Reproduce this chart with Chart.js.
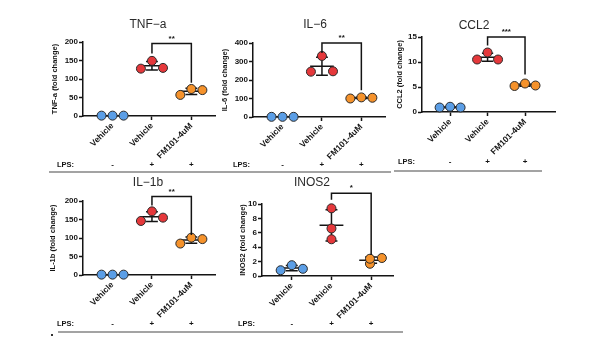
<!DOCTYPE html>
<html>
<head>
<meta charset="utf-8">
<script src="https://cdn.jsdelivr.net/npm/chart.js@4.4.0/dist/chart.umd.min.js"></script>
<style>
  html, body { margin: 0; padding: 0; background: #fff; }
  #wrap { position: relative; width: 590px; height: 350px; overflow: hidden; background: #fff; }
  #wrap canvas { position: absolute; left: 0; top: 0; }
  .rule { position: absolute; height: 2px; background: #a3a3a3; }
  .dot { position: absolute; width: 2px; height: 2px; background: #333; }
</style>
</head>
<body>
<div id="wrap">
  <canvas id="c0" width="590" height="350"></canvas>
  <canvas id="c1" width="590" height="350"></canvas>
  <canvas id="c2" width="590" height="350"></canvas>
  <canvas id="c3" width="590" height="350"></canvas>
  <canvas id="c4" width="590" height="350"></canvas>
  <div class="rule" style="left:49px;top:171px;width:342px"></div>
  <div class="rule" style="left:394px;top:170px;width:148px"></div>
  <div class="rule" style="left:58px;top:331px;width:345px"></div>
  <div class="dot" style="left:51px;top:334px"></div>
</div>
<script>
// groups on the x axis, LPS row under them
const groups = ['Vehicle', 'Vehicle', 'FM101-4uM'];
const lpsSigns = ['-', '+', '+'];
const titles = ['TNF\u2212a', 'IL\u22126', 'CCL2', 'IL\u22121b', 'INOS2'];
const yTitles = ['TNF-a (fold change)', 'IL-6 (fold change)', 'CCL2 (fold change)', 'IL-1b (fold change)', 'INOS2 (fold change)'];

// fold change values, 3 replicates per group
const tnfVeh = [1, 1, 1];
const tnfLps = [128, 149, 130];
const tnfFm = [57, 73, 70];
const il6Veh = [1, 1, 1];
const il6Lps = [245, 330, 247];
const il6Fm = [100, 106, 104];
const ccl2Veh = [0.9, 1.05, 0.9];
const ccl2Lps = [10.5, 11.9, 10.5];
const ccl2Fm = [5.2, 5.7, 5.3];
const il1bVeh = [1, 1, 1];
const il1bLps = [146, 172, 155];
const il1bFm = [85, 101, 97];
const inosVeh = [0.8, 1.5, 1.0];
const inosLps = [9.4, 6.6, 5.1];
const inosFm = [1.7, 2.4, 2.5];

// y axis ticks
const yMaxes = [200, 400, 15, 200, 10];
const ySteps = [50, 100, 5, 50, 2];

// significance brackets (Vehicle+LPS vs FM101)
const bracketTop = [196, 400, 15, 212, 11.5];
const bracketLeft = [169, 346, 13.3, 188, 10.6];
const bracketRight = [90, 144, 7.5, 108, 2.9];
const stars = ['**', '**', '***', '**', '*'];

const panelVals = [
  [tnfVeh, tnfLps, tnfFm],
  [il6Veh, il6Lps, il6Fm],
  [ccl2Veh, ccl2Lps, ccl2Fm],
  [il1bVeh, il1bLps, il1bFm],
  [inosVeh, inosLps, inosFm]
];

// layout of each panel on the page (pixels)
const frames = [
  { L: 83, R: 215, T: 42, B: 116, xMax: 2.6, tx: 148, ty: 25, yOff: 28, lpsX: 57, lpsY: 165 },
  { L: 253, R: 385, T: 43, B: 117, xMax: 2.6, tx: 315, ty: 25, yOff: 28, lpsX: 233, lpsY: 165 },
  { L: 422, R: 555, T: 37, B: 112, xMax: 2.8, tx: 474, ty: 26, yOff: 22, lpsX: 398, lpsY: 162 },
  { L: 83, R: 215, T: 201, B: 275, xMax: 2.6, tx: 148, ty: 183, yOff: 30, lpsX: 57, lpsY: 324 },
  { L: 262, R: 393, T: 204, B: 276, xMax: 2.55, tx: 312, ty: 183, yOff: 19, lpsX: 238, lpsY: 324 }
];
const spread = [-0.28, 0, 0.28];
const offsets = [
  [spread, spread, spread],
  [spread, spread, spread],
  [spread, spread, spread],
  [spread, spread, spread],
  [spread, [0, 0, 0], [-0.03, -0.03, 0.27]]
];

const colors = ['#5b9ee6', '#e5383b', '#f5922b'];
const ink = '#141414';
const family = "'Liberation Sans', Arial, sans-serif";
Chart.defaults.font.family = family;
Chart.defaults.color = ink;

function mean(a) { return a.reduce((s, v) => s + v, 0) / a.length; }
function sd(a) {
  const m = mean(a);
  return Math.sqrt(a.reduce((s, v) => s + (v - m) * (v - m), 0) / (a.length - 1));
}

const extras = {
  id: 'extras',
  beforeDatasetsDraw(chart, args, opts) {
    const i = opts.idx;
    const ctx = chart.ctx, x = chart.scales.x, y = chart.scales.y;
    ctx.save();
    ctx.strokeStyle = ink;
    ctx.lineWidth = 1.5;
    panelVals[i].forEach((vals, g) => {
      const m = mean(vals), s = sd(vals);
      const ym = y.getPixelForValue(m), y1 = y.getPixelForValue(m + s), y2 = y.getPixelForValue(m - s);
      ctx.beginPath();
      ctx.moveTo(x.getPixelForValue(g - 0.3), ym);
      ctx.lineTo(x.getPixelForValue(g + 0.3), ym);
      ctx.moveTo(x.getPixelForValue(g), y1);
      ctx.lineTo(x.getPixelForValue(g), y2);
      ctx.moveTo(x.getPixelForValue(g - 0.15), y1);
      ctx.lineTo(x.getPixelForValue(g + 0.15), y1);
      ctx.moveTo(x.getPixelForValue(g - 0.15), y2);
      ctx.lineTo(x.getPixelForValue(g + 0.15), y2);
      ctx.stroke();
    });
    ctx.restore();
  },
  afterDatasetsDraw(chart, args, opts) {
    const i = opts.idx;
    const ctx = chart.ctx, x = chart.scales.x, y = chart.scales.y;
    const x1 = x.getPixelForValue(1), x2 = x.getPixelForValue(2), yt = y.getPixelForValue(bracketTop[i]);
    ctx.save();
    ctx.strokeStyle = ink;
    ctx.lineWidth = 1.5;
    ctx.beginPath();
    ctx.moveTo(x1, y.getPixelForValue(bracketLeft[i]));
    ctx.lineTo(x1, yt);
    ctx.lineTo(x2, yt);
    ctx.lineTo(x2, y.getPixelForValue(bracketRight[i]));
    ctx.stroke();
    ctx.fillStyle = ink;
    ctx.font = 'bold 8px ' + family;
    ctx.textAlign = 'center';
    ctx.textBaseline = 'bottom';
    ctx.fillText(stars[i], (x1 + x2) / 2, yt - 1);
    ctx.restore();
  },
  afterDraw(chart, args, opts) {
    const i = opts.idx, f = frames[i];
    const ctx = chart.ctx, x = chart.scales.x;
    ctx.save();
    ctx.fillStyle = '#2a2a2a';
    ctx.font = '12px ' + family;
    ctx.textAlign = 'center';
    ctx.textBaseline = 'middle';
    ctx.fillText(titles[i], f.tx, f.ty);
    ctx.fillStyle = ink;
    ctx.font = 'bold 7.5px ' + family;
    ctx.textAlign = 'left';
    ctx.fillText('LPS:', f.lpsX, f.lpsY);
    ctx.textAlign = 'center';
    ctx.font = 'bold 8px ' + family;
    lpsSigns.forEach((s, g) => ctx.fillText(s, x.getPixelForValue(g), f.lpsY));
    ctx.restore();
  }
};

function makeChart(i) {
  const f = frames[i];
  const yW = f.yOff + 4.5;
  const xH = 60;
  const datasets = panelVals[i].map((vals, g) => ({
    data: vals.map((v, k) => ({ x: g + offsets[i][g][k], y: v })),
    backgroundColor: colors[g],
    borderColor: '#2a2a2a',
    borderWidth: 1,
    pointRadius: 4.5,
    pointHoverRadius: 4.5,
    clip: false
  }));
  new Chart(document.getElementById('c' + i), {
    type: 'scatter',
    data: { datasets },
    plugins: [extras],
    options: {
      responsive: false,
      animation: false,
      devicePixelRatio: 1,
      layout: { padding: { left: f.L - yW, top: f.T, right: 590 - f.R, bottom: 350 - f.B - xH } },
      plugins: { legend: { display: false }, tooltip: { enabled: false }, extras: { idx: i } },
      scales: {
        x: {
          type: 'linear',
          min: -0.75,
          max: f.xMax,
          afterBuildTicks: (s) => { s.ticks = [0, 1, 2].map(v => ({ value: v })); },
          afterFit: (s) => { s.height = xH; },
          ticks: {
            callback: (v) => groups[v],
            autoSkip: false,
            minRotation: 45,
            maxRotation: 45,
            padding: 1,
            color: ink,
            font: { size: 8.5, weight: 'bold' }
          },
          grid: { display: true, drawOnChartArea: false, drawTicks: true, tickLength: 4, tickWidth: 1.5, tickColor: ink },
          border: { display: true, color: ink, width: 1.5 }
        },
        y: {
          min: 0,
          max: yMaxes[i],
          afterFit: (s) => { s.width = yW; },
          ticks: { stepSize: ySteps[i], padding: 1, color: ink, font: { size: 8, weight: 'bold' } },
          title: { display: true, text: yTitles[i], padding: 0, color: ink, font: { size: 7.5, weight: 'bold' } },
          grid: { display: true, drawOnChartArea: false, drawTicks: true, tickLength: 4, tickWidth: 1.5, tickColor: ink },
          border: { display: true, color: ink, width: 1.5 }
        }
      }
    }
  });
}

for (let i = 0; i < 5; i++) makeChart(i);
</script>
</body>
</html>
